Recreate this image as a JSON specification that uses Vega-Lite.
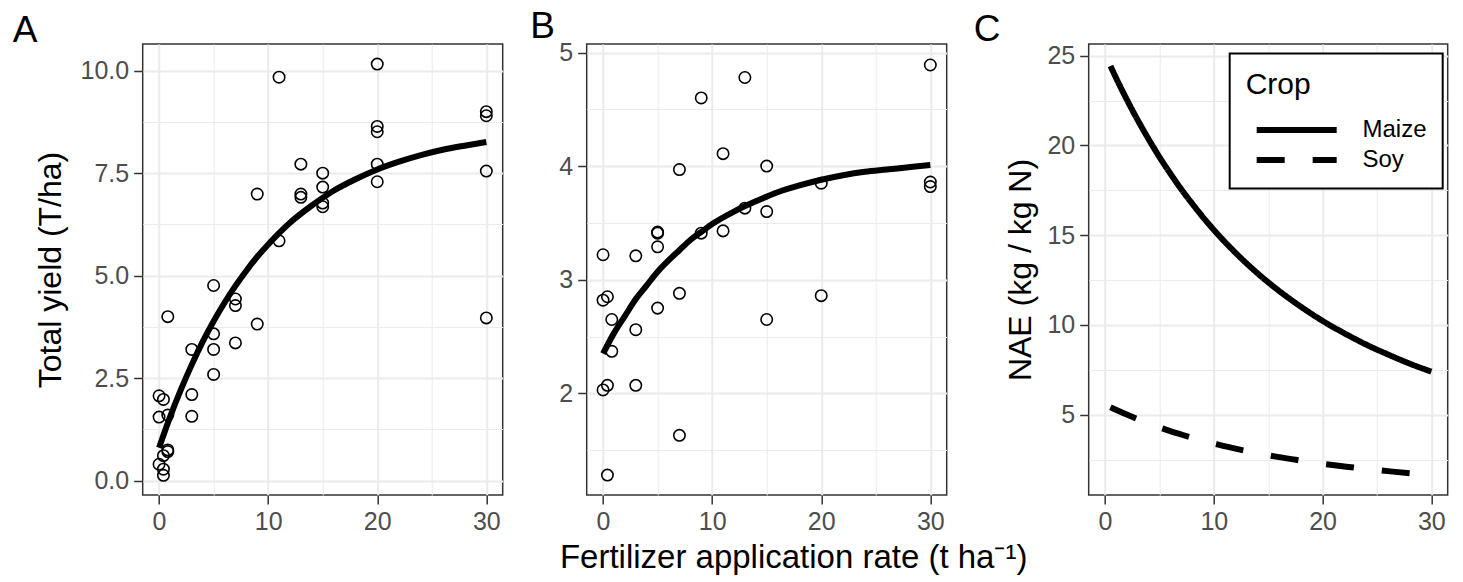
{
  "$schema": "https://vega.github.io/schema/vega-lite/v6.json",
  "background": "white",
  "padding": {"left": 11.7, "top": 7, "right": 16, "bottom": 6},
  "autosize": {"type": "pad"},
  "spacing": 25,
  "resolve": {"scale": {"strokeDash": "independent"}},
  "title": {"text": "Fertilizer application rate (t ha⁻¹)", "orient": "bottom", "anchor": "middle", "frame": "bounds", "dx": 63.5, "offset": 32, "baseline": "alphabetic", "fontSize": 33, "fontWeight": "normal", "color": "black", "font": "Liberation Sans"},
  "config": {
    "font": "Liberation Sans",
    "view": {"stroke": "#333333", "strokeWidth": 1.5},
    "axis": {"domain": false, "grid": true, "gridColor": "#EBEBEB", "gridWidth": 2, "ticks": true, "tickColor": "#333333", "tickWidth": 1.5, "tickSize": 9, "labelFont": "Liberation Sans", "labelFontSize": 25, "labelColor": "#4D4D4D", "labelPadding": 5, "labelOverlap": false, "labelBound": false, "titleFont": "Liberation Sans", "titleFontSize": 32, "titleFontWeight": "normal", "titleColor": "black"},
    "axisX": {"labelPadding": 6},
    "legend": {"strokeWidth": 2},
    "title": {"font": "Liberation Sans"}
  },
  "hconcat": [
    {
      "width": 360, "height": 451,
      "title": {"text": "A", "anchor": "start", "frame": "group", "dx": -130, "offset": -34.7, "baseline": "alphabetic", "fontSize": 37, "fontWeight": "normal", "color": "black"},
      "encoding": {
        "x": {"field": "rate", "type": "quantitative", "scale": {"domain": [-1.5, 31.5], "nice": false, "zero": false},
          "axis": {"values": [0, 5, 10, 15, 20, 25, 30], "labelExpr": "abs(datum.value / 10 - round(datum.value / 10)) < 0.01 ? datum.label : ''",
            "gridWidth": {"condition": {"test": "abs(datum.value / 10 - round(datum.value / 10)) < 0.01", "value": 2}, "value": 1},
            "tickOpacity": {"condition": {"test": "abs(datum.value / 10 - round(datum.value / 10)) < 0.01", "value": 1}, "value": 0}, "title": null}},
        "y": {"field": "yield", "type": "quantitative", "scale": {"domain": [-0.35, 10.65], "nice": false, "zero": false},
          "axis": {"values": [0, 1.25, 2.5, 3.75, 5, 6.25, 7.5, 8.75, 10], "format": ".1f", "labelExpr": "abs(datum.value / 2.5 - round(datum.value / 2.5)) < 0.01 ? datum.label : ''",
            "gridWidth": {"condition": {"test": "abs(datum.value / 2.5 - round(datum.value / 2.5)) < 0.01", "value": 2}, "value": 1},
            "tickOpacity": {"condition": {"test": "abs(datum.value / 2.5 - round(datum.value / 2.5)) < 0.01", "value": 1}, "value": 0},
            "title": "Total yield (T/ha)", "titleX": -82.4, "titleBaseline": "alphabetic"}}
      },
      "layer": [
        {
          "data": {"values": [
            {"rate": 0, "yield": 2.07}, {"rate": 0, "yield": 1.55}, {"rate": 0, "yield": 0.40},
            {"rate": 0.4, "yield": 1.98}, {"rate": 0.4, "yield": 0.61}, {"rate": 0.4, "yield": 0.28}, {"rate": 0.4, "yield": 0.13},
            {"rate": 0.8, "yield": 4.00}, {"rate": 0.8, "yield": 1.60}, {"rate": 0.8, "yield": 0.75}, {"rate": 0.8, "yield": 0.71},
            {"rate": 3, "yield": 3.20}, {"rate": 3, "yield": 2.10}, {"rate": 3, "yield": 1.57},
            {"rate": 5, "yield": 4.76}, {"rate": 5, "yield": 3.58}, {"rate": 5, "yield": 3.20}, {"rate": 5, "yield": 2.59},
            {"rate": 7, "yield": 4.43}, {"rate": 7, "yield": 4.27}, {"rate": 7, "yield": 3.36},
            {"rate": 9, "yield": 6.99}, {"rate": 9, "yield": 3.82},
            {"rate": 11, "yield": 9.84}, {"rate": 11, "yield": 5.85},
            {"rate": 13, "yield": 7.72}, {"rate": 13, "yield": 6.99}, {"rate": 13, "yield": 6.91},
            {"rate": 15, "yield": 7.50}, {"rate": 15, "yield": 7.16}, {"rate": 15, "yield": 6.77}, {"rate": 15, "yield": 6.68},
            {"rate": 20, "yield": 10.16}, {"rate": 20, "yield": 8.64}, {"rate": 20, "yield": 8.51}, {"rate": 20, "yield": 7.72}, {"rate": 20, "yield": 7.29},
            {"rate": 30, "yield": 9.00}, {"rate": 30, "yield": 8.90}, {"rate": 30, "yield": 7.55}, {"rate": 30, "yield": 3.97}
          ]},
          "mark": {"type": "point", "shape": "circle", "filled": false, "stroke": "black", "strokeWidth": 1.6, "size": 130, "opacity": 1}
        },
        {
          "data": {"values": [
            {"rate": 0, "yield": 0.80}, {"rate": 1, "yield": 1.55}, {"rate": 2, "yield": 2.22}, {"rate": 3, "yield": 2.83},
            {"rate": 4, "yield": 3.39}, {"rate": 5, "yield": 3.89}, {"rate": 6, "yield": 4.34}, {"rate": 7, "yield": 4.75},
            {"rate": 8, "yield": 5.12}, {"rate": 9, "yield": 5.46}, {"rate": 10, "yield": 5.76}, {"rate": 12, "yield": 6.29},
            {"rate": 14, "yield": 6.71}, {"rate": 16, "yield": 7.07}, {"rate": 18, "yield": 7.35}, {"rate": 20, "yield": 7.59},
            {"rate": 22, "yield": 7.78}, {"rate": 24, "yield": 7.94}, {"rate": 26, "yield": 8.07}, {"rate": 28, "yield": 8.17},
            {"rate": 30, "yield": 8.26}
          ]},
          "mark": {"type": "line", "stroke": "black", "strokeWidth": 6, "interpolate": "monotone"}
        }
      ]
    },
    {
      "width": 360, "height": 451,
      "title": {"text": "B", "anchor": "start", "frame": "group", "dx": -56.5, "offset": -34.7, "baseline": "alphabetic", "fontSize": 37, "fontWeight": "normal", "color": "black"},
      "encoding": {
        "x": {"field": "rate", "type": "quantitative", "scale": {"domain": [-1.5, 31.5], "nice": false, "zero": false},
          "axis": {"values": [0, 5, 10, 15, 20, 25, 30], "labelExpr": "abs(datum.value / 10 - round(datum.value / 10)) < 0.01 ? datum.label : ''",
            "gridWidth": {"condition": {"test": "abs(datum.value / 10 - round(datum.value / 10)) < 0.01", "value": 2}, "value": 1},
            "tickOpacity": {"condition": {"test": "abs(datum.value / 10 - round(datum.value / 10)) < 0.01", "value": 1}, "value": 0}, "title": null}},
        "y": {"field": "yield", "type": "quantitative", "scale": {"domain": [1.105, 5.075], "nice": false, "zero": false},
          "axis": {"values": [1.5, 2, 2.5, 3, 3.5, 4, 4.5, 5], "format": ".0f", "labelExpr": "abs(datum.value - round(datum.value)) < 0.01 ? datum.label : ''",
            "gridWidth": {"condition": {"test": "abs(datum.value - round(datum.value)) < 0.01", "value": 2}, "value": 1},
            "tickOpacity": {"condition": {"test": "abs(datum.value - round(datum.value)) < 0.01", "value": 1}, "value": 0}, "title": null}}
      },
      "layer": [
        {
          "data": {"values": [
            {"rate": 0, "yield": 3.22}, {"rate": 0, "yield": 2.82}, {"rate": 0, "yield": 2.03},
            {"rate": 0.4, "yield": 2.85}, {"rate": 0.4, "yield": 2.07}, {"rate": 0.4, "yield": 1.28},
            {"rate": 0.8, "yield": 2.65}, {"rate": 0.8, "yield": 2.37},
            {"rate": 3, "yield": 3.21}, {"rate": 3, "yield": 2.56}, {"rate": 3, "yield": 2.07},
            {"rate": 5, "yield": 3.42}, {"rate": 5, "yield": 3.41}, {"rate": 5, "yield": 3.29}, {"rate": 5, "yield": 2.75},
            {"rate": 7, "yield": 3.97}, {"rate": 7, "yield": 2.88}, {"rate": 7, "yield": 1.63},
            {"rate": 9, "yield": 4.60}, {"rate": 9, "yield": 3.41},
            {"rate": 11, "yield": 4.11}, {"rate": 11, "yield": 3.43},
            {"rate": 13, "yield": 4.78}, {"rate": 13, "yield": 3.63},
            {"rate": 15, "yield": 4.00}, {"rate": 15, "yield": 3.60}, {"rate": 15, "yield": 2.65},
            {"rate": 20, "yield": 3.85}, {"rate": 20, "yield": 2.86},
            {"rate": 30, "yield": 4.89}, {"rate": 30, "yield": 3.86}, {"rate": 30, "yield": 3.82}
          ]},
          "mark": {"type": "point", "shape": "circle", "filled": false, "stroke": "black", "strokeWidth": 1.6, "size": 130, "opacity": 1}
        },
        {
          "data": {"values": [
            {"rate": 0, "yield": 2.35}, {"rate": 1, "yield": 2.53}, {"rate": 2, "yield": 2.68}, {"rate": 3, "yield": 2.83},
            {"rate": 4, "yield": 2.95}, {"rate": 5, "yield": 3.07}, {"rate": 6, "yield": 3.17}, {"rate": 7, "yield": 3.26},
            {"rate": 8, "yield": 3.35}, {"rate": 9, "yield": 3.42}, {"rate": 10, "yield": 3.49}, {"rate": 12, "yield": 3.60},
            {"rate": 14, "yield": 3.69}, {"rate": 16, "yield": 3.77}, {"rate": 18, "yield": 3.83}, {"rate": 20, "yield": 3.88},
            {"rate": 22, "yield": 3.92}, {"rate": 24, "yield": 3.95}, {"rate": 26, "yield": 3.97}, {"rate": 28, "yield": 3.99},
            {"rate": 30, "yield": 4.01}
          ]},
          "mark": {"type": "line", "stroke": "black", "strokeWidth": 6, "interpolate": "monotone"}
        }
      ]
    },
    {
      "width": 359, "height": 451,
      "title": {"text": "C", "anchor": "start", "frame": "group", "dx": -115, "offset": -34.7, "baseline": "alphabetic", "fontSize": 37, "fontWeight": "normal", "color": "black"},
      "data": {"values": [
        {"crop": "Maize", "rate": 0.5, "nae": 24.43}, {"crop": "Maize", "rate": 1, "nae": 23.78}, {"crop": "Maize", "rate": 2, "nae": 22.56},
        {"crop": "Maize", "rate": 3, "nae": 21.42}, {"crop": "Maize", "rate": 4, "nae": 20.36}, {"crop": "Maize", "rate": 5, "nae": 19.36},
        {"crop": "Maize", "rate": 6, "nae": 18.44}, {"crop": "Maize", "rate": 7, "nae": 17.57}, {"crop": "Maize", "rate": 8, "nae": 16.77},
        {"crop": "Maize", "rate": 9, "nae": 16.01}, {"crop": "Maize", "rate": 10, "nae": 15.30}, {"crop": "Maize", "rate": 12, "nae": 14.02},
        {"crop": "Maize", "rate": 14, "nae": 12.89}, {"crop": "Maize", "rate": 16, "nae": 11.90}, {"crop": "Maize", "rate": 18, "nae": 11.02},
        {"crop": "Maize", "rate": 20, "nae": 10.23}, {"crop": "Maize", "rate": 22, "nae": 9.54}, {"crop": "Maize", "rate": 24, "nae": 8.91},
        {"crop": "Maize", "rate": 26, "nae": 8.36}, {"crop": "Maize", "rate": 28, "nae": 7.85}, {"crop": "Maize", "rate": 30, "nae": 7.40},
        {"crop": "Soy", "rate": 0.5, "nae": 5.42}, {"crop": "Soy", "rate": 1, "nae": 5.28}, {"crop": "Soy", "rate": 2, "nae": 5.01},
        {"crop": "Soy", "rate": 3, "nae": 4.76}, {"crop": "Soy", "rate": 4, "nae": 4.52}, {"crop": "Soy", "rate": 5, "nae": 4.30},
        {"crop": "Soy", "rate": 6, "nae": 4.09}, {"crop": "Soy", "rate": 7, "nae": 3.90}, {"crop": "Soy", "rate": 8, "nae": 3.72},
        {"crop": "Soy", "rate": 9, "nae": 3.55}, {"crop": "Soy", "rate": 10, "nae": 3.40}, {"crop": "Soy", "rate": 12, "nae": 3.11},
        {"crop": "Soy", "rate": 14, "nae": 2.86}, {"crop": "Soy", "rate": 16, "nae": 2.64}, {"crop": "Soy", "rate": 18, "nae": 2.45},
        {"crop": "Soy", "rate": 20, "nae": 2.27}, {"crop": "Soy", "rate": 22, "nae": 2.12}, {"crop": "Soy", "rate": 24, "nae": 1.98},
        {"crop": "Soy", "rate": 26, "nae": 1.86}, {"crop": "Soy", "rate": 28, "nae": 1.74}, {"crop": "Soy", "rate": 30, "nae": 1.64}
      ]},
      "mark": {"type": "line", "stroke": "black", "strokeWidth": 6, "strokeCap": "butt", "interpolate": "monotone"},
      "encoding": {
        "x": {"field": "rate", "type": "quantitative", "scale": {"domain": [-1.5, 31.5], "nice": false, "zero": false},
          "axis": {"values": [0, 5, 10, 15, 20, 25, 30], "labelExpr": "abs(datum.value / 10 - round(datum.value / 10)) < 0.01 ? datum.label : ''",
            "gridWidth": {"condition": {"test": "abs(datum.value / 10 - round(datum.value / 10)) < 0.01", "value": 2}, "value": 1},
            "tickOpacity": {"condition": {"test": "abs(datum.value / 10 - round(datum.value / 10)) < 0.01", "value": 1}, "value": 0}, "title": null}},
        "y": {"field": "nae", "type": "quantitative", "scale": {"domain": [0.53, 25.65], "nice": false, "zero": false},
          "axis": {"values": [2.5, 5, 7.5, 10, 12.5, 15, 17.5, 20, 22.5, 25], "format": ".0f", "labelExpr": "abs(datum.value / 5 - round(datum.value / 5)) < 0.01 ? datum.label : ''",
            "gridWidth": {"condition": {"test": "abs(datum.value / 5 - round(datum.value / 5)) < 0.01", "value": 2}, "value": 1},
            "tickOpacity": {"condition": {"test": "abs(datum.value / 5 - round(datum.value / 5)) < 0.01", "value": 1}, "value": 0},
            "title": "NAE (kg / kg N)", "titleX": -58.3, "titleBaseline": "alphabetic"}},
        "strokeDash": {"field": "crop", "type": "nominal", "scale": {"domain": ["Maize", "Soy"], "range": [[1, 0], [28, 28]]},
          "legend": {"orient": "none", "legendX": 141, "legendY": 9.5, "title": "Crop", "titleFontSize": 30, "titleFontWeight": "normal", "titleColor": "black", "labelFontSize": 24, "labelColor": "black", "symbolType": "M-4,0L4,0", "symbolSize": 400, "symbolStrokeWidth": 6, "symbolStrokeColor": "black", "symbolOffset": 38, "labelOffset": 52.8, "padding": 16, "strokeColor": "black", "fillColor": "white", "titlePadding": 17.5, "rowPadding": 5, "cornerRadius": 0}}
      }
    }
  ]
}
